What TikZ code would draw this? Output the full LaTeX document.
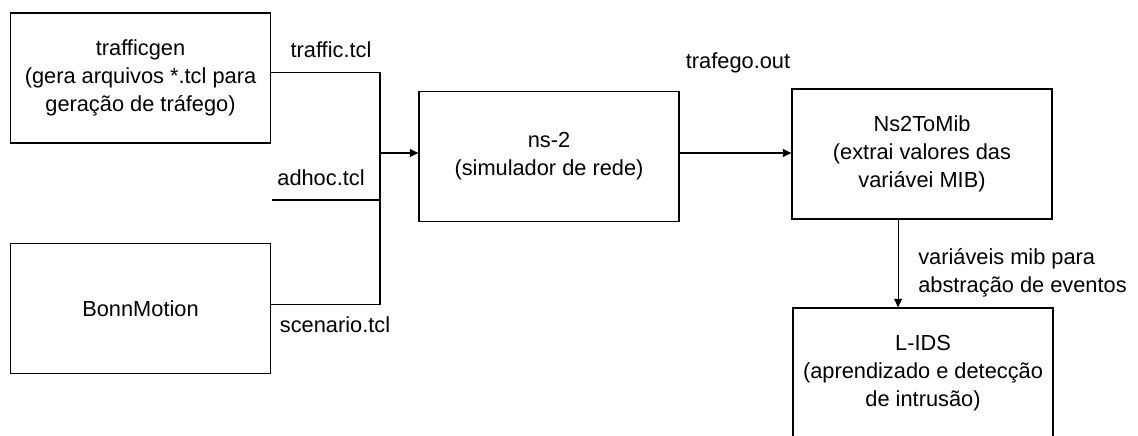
\documentclass[tikz,border=0pt]{standalone}
\usepackage{fontspec}
\setmainfont{Liberation Sans}
\usepackage{tikz}
\usetikzlibrary{arrows.meta}
\tikzstyle{block} = [draw,line width=0.8pt,minimum width=6.5cm,minimum height=3.25cm,align=center,inner sep=0pt]
\tikzstyle{wire} = [line width=0.8pt]
\tikzstyle{flow} = [line width=0.8pt,-{Triangle[length=6pt,width=5.5pt]}]
\tikzstyle{tag} = [inner sep=0pt,align=left]

\begin{document}
\begin{tikzpicture}[x=0.025cm,y=-0.025cm,font=\fontsize{15.5}{20}\selectfont]
    \useasboundingbox (0,0) rectangle (1138,435);

    \node[block] (tgen) at (140.5,78)  {trafficgen\\(gera arquivos *.tcl para\\geração de tráfego)};
    \node[block] (bonn) at (140.5,308.5) {BonnMotion};
    \node[block] (ns)   at (549,156.5) {ns-2\\(simulador de rede)};
    \node[block] (mib)  at (922,154)   {Ns2ToMib\\(extrai valores das\\variávei MIB)};
    \node[block] (lids) at (923,373)   {L-IDS\\(aprendizado e detecção\\de intrusão)};

    \coordinate (jn) at (380,153);
    \coordinate (adhoc) at (272,200);

    % scripts to ns-2
    \draw[wire] ([yshift=4pt]tgen.east) -| (jn);
    \draw[wire] ([yshift=3pt]bonn.east) -| (jn);
    \draw[wire] (adhoc) -| (jn);
    \draw[flow] (jn) -- (jn -| ns.west);

    % ns-2 to Ns2ToMib to L-IDS
    \draw[flow] (jn -| ns.east) -- (jn -| mib.west);
    \draw[flow] ([xshift=-17pt]mib.south) -- ([xshift=-17pt]mib.south |- lids.north);

    \node[tag] (ltraffic)  at (331,50)  {traffic.tcl};
    \node[tag] (ladhoc)    at (321,178) {adhoc.tcl};
    \node[tag] (lscenario) at (335,325) {scenario.tcl};
    \node[tag] (ltrafego)  at (738,63)  {trafego.out};
    \node[tag,anchor=west] (lvars) at (918,273) {variáveis mib para\\abstração de eventos};
\end{tikzpicture}
\end{document}
